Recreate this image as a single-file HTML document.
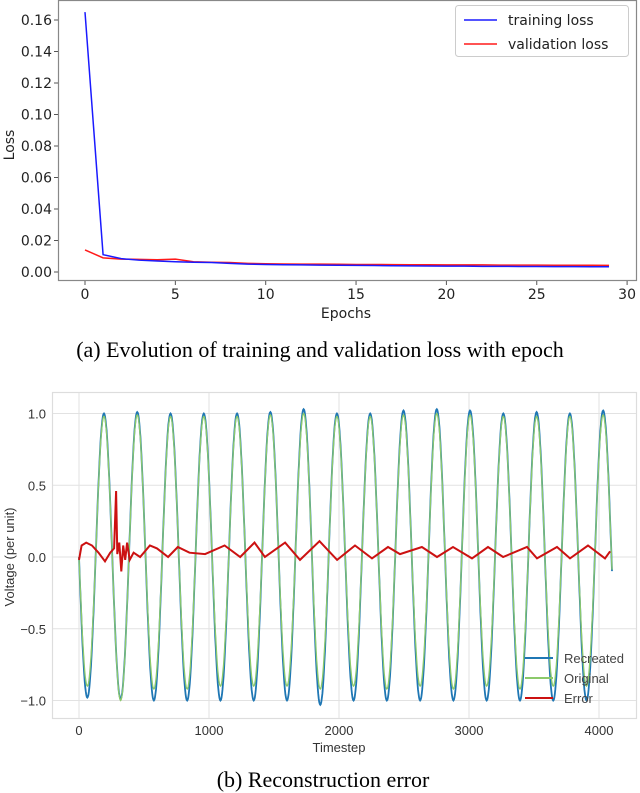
<!DOCTYPE html>
<html><head><meta charset="utf-8"><style>
body{margin:0;background:#fff;width:640px;height:793px;overflow:hidden}
svg{display:block}
.cap{font-family:"Liberation Serif",serif;font-size:22px;fill:#000}
</style></head><body>
<svg id="s" width="640" height="793">
<text class="cap" x="320" y="357" text-anchor="middle">(a) Evolution of training and validation loss with epoch</text>
<text class="cap" x="323" y="787" text-anchor="middle">(b) Reconstruction error</text>
</svg>
<script>
const epochs=[...Array(30).keys()];
const trainLoss=[0.165,0.011,0.0085,0.0075,0.007,0.0065,0.0062,0.006,0.0055,0.005,0.0048,0.0046,0.0045,0.0044,0.0043,0.0042,0.0041,0.004,0.0039,0.0038,0.0037,0.0037,0.0036,0.0036,0.0035,0.0035,0.0034,0.0034,0.0033,0.0033];
const valLoss=[0.014,0.009,0.0082,0.008,0.0078,0.0082,0.0065,0.0062,0.006,0.0055,0.0052,0.0051,0.005,0.005,0.0049,0.0048,0.0048,0.0047,0.0046,0.0046,0.0045,0.0045,0.0045,0.0044,0.0044,0.0044,0.0043,0.0043,0.0043,0.0042];
const lossTicksY=[0,0.02,0.04,0.06,0.08,0.10,0.12,0.14,0.16];
const lossTicksX=[0,5,10,15,20,25,30];
// bottom chart
const period=256;
const recPeaks=[1.0,1.01,1.0,1.0,1.0,1.01,1.03,1.0,1.0,1.02,1.03,1.02,1.0,1.01,1.0,1.02];
const recTroughs=[-0.98,-0.99,-1.0,-1.0,-1.0,-1.0,-1.0,-1.03,-1.0,-1.0,-1.0,-1.0,-1.0,-1.0,-1.0,-1.0];
const origPeaks=[0.98,0.99,0.98,0.98,0.98,0.99,1.0,0.98,0.98,0.99,1.0,0.99,0.98,0.98,0.98,0.99];
const origTroughs=[-0.9,-1.0,-0.92,-0.92,-0.9,-0.9,-0.9,-0.92,-0.9,-0.92,-0.9,-0.92,-0.9,-0.92,-0.9,-0.9];
const errT=[0,20,55,100,150,200,240,270,285,295,310,325,340,355,370,390,420,470,545,600,685,760,850,970,1120,1240,1350,1430,1585,1700,1850,1985,2123,2254,2377,2469,2638,2754,2877,3023,3146,3262,3446,3523,3677,3777,3915,4046,4085];
const errV=[-0.02,0.08,0.1,0.08,0.03,-0.03,0.03,0.06,0.46,0.02,0.1,-0.1,0.08,-0.02,0.1,-0.02,0.03,0.0,0.08,0.06,0.0,0.07,0.03,0.02,0.08,0.0,0.1,0.0,0.1,-0.02,0.11,-0.02,0.08,-0.01,0.07,0.02,0.07,0.0,0.07,-0.01,0.07,0.0,0.07,-0.01,0.07,-0.01,0.08,-0.01,0.04];
const voltTicksY=[1.0,0.5,0.0,-0.5,-1.0];
const voltTicksX=[0,1000,2000,3000,4000];

const S=document.getElementById('s'),NS='http://www.w3.org/2000/svg';
function el(t,a,txt){const e=document.createElementNS(NS,t);for(const k in a)e.setAttribute(k,a[k]);if(txt!==undefined)e.textContent=txt;S.appendChild(e);return e;}

// ---- top chart
const tx=v=>85+v*18.07, ty=v=>272-v*1575;
let f=el('rect',{x:58.5,y:0.5,width:578,height:280,fill:'none',stroke:'#888','stroke-width':1.2});


lossTicksY.forEach(v=>{
 let t=el('line',{x1:54,x2:58,y1:ty(v),y2:ty(v),stroke:'#555'});
 
 let l=el('text',{x:52,y:ty(v)+5,'text-anchor':'end','font-family':'DejaVu Sans,sans-serif','font-size':14,fill:'#222'},v.toFixed(2));
 
});
lossTicksX.forEach(v=>{
 let t=el('line',{x1:tx(v),x2:tx(v),y1:281,y2:285,stroke:'#555'});
 
 let l=el('text',{x:tx(v),y:299,'text-anchor':'middle','font-family':'DejaVu Sans,sans-serif','font-size':14,fill:'#222'},v);
 
});
let yt=el('text',{x:14,y:145,transform:'rotate(-90 14 145)','text-anchor':'middle','font-family':'DejaVu Sans,sans-serif','font-size':14,fill:'#222'},'Loss');

let xt=el('text',{x:346,y:318,'text-anchor':'middle','font-family':'DejaVu Sans,sans-serif','font-size':14,fill:'#222'},'Epochs');

let p1=el('polyline',{points:epochs.map(e=>tx(e)+','+ty(valLoss[e])).join(' '),fill:'none',stroke:'#ff1a1a','stroke-width':1.5});

let p2=el('polyline',{points:epochs.map(e=>tx(e)+','+ty(trainLoss[e])).join(' '),fill:'none',stroke:'#1a1aff','stroke-width':1.5});

let lg=el('rect',{x:455.5,y:5.5,width:173,height:51,rx:3,fill:'#fff',stroke:'#ccc'});

[['training loss','#1a1aff',20],['validation loss','#ff1a1a',44]].forEach(([n,c,y])=>{
 let l=el('line',{x1:464,x2:497,y1:y,y2:y,stroke:c,'stroke-width':1.5});
 
 let t=el('text',{x:508,y:y+5,'font-family':'DejaVu Sans,sans-serif','font-size':14,fill:'#222'},n);
 
});

// ---- bottom chart
const bx=v=>79+v*0.13, by=v=>557-v*143.5;
let f2=el('rect',{x:52.5,y:392.5,width:584,height:326,fill:'#fff',stroke:'#ddd','stroke-width':1.2});

voltTicksY.forEach(v=>{
 let g=el('line',{x1:53,x2:636,y1:by(v),y2:by(v),stroke:'#e2e2e2'});
 
 let l=el('text',{x:46,y:by(v)+5,'text-anchor':'end','font-family':'Liberation Sans,sans-serif','font-size':13,fill:'#333'},v===0?'0.0':(v<0?'\u2212':'')+Math.abs(v).toFixed(1));
 
});
voltTicksX.forEach(v=>{
 let g=el('line',{x1:bx(v),x2:bx(v),y1:393,y2:718,stroke:'#e2e2e2'});
 
 let l=el('text',{x:bx(v),y:735,'text-anchor':'middle','font-family':'Liberation Sans,sans-serif','font-size':13,fill:'#333'},v);
 
});
let yt2=el('text',{x:14,y:557,transform:'rotate(-90 14 557)','text-anchor':'middle','font-family':'Liberation Sans,sans-serif','font-size':13,fill:'#333'},'Voltage (per unit)');

let xt2=el('text',{x:339,y:752,'text-anchor':'middle','font-family':'Liberation Sans,sans-serif','font-size':13,fill:'#333'},'Timestep');

function wave(peaks,troughs){
 const pts=[];
 for(let t=0;t<=4100;t+=4){
  const s=-Math.sin(2*Math.PI*t/period), c=Math.floor(t/period);
  const a=s>=0?peaks[Math.min(c,peaks.length-1)]:-troughs[Math.min(c,troughs.length-1)];
  pts.push(bx(t).toFixed(1)+','+by(s*a).toFixed(1));
 }
 return pts.join(' ');
}
let r=el('polyline',{points:wave(recPeaks,recTroughs),fill:'none',stroke:'#1f77b4','stroke-width':1.8});

let o=el('polyline',{points:wave(origPeaks,origTroughs),fill:'none',stroke:'#8cc96b','stroke-width':1.3});

let er=el('polyline',{points:errT.map((t,i)=>bx(t).toFixed(1)+','+by(errV[i]).toFixed(1)).join(' '),fill:'none',stroke:'#cc1111','stroke-width':2});

[['Recreated','#1f77b4',658],['Original','#8cc96b',678],['Error','#cc1111',698]].forEach(([n,c,y])=>{
 let l=el('line',{x1:525,x2:553,y1:y,y2:y,stroke:c,'stroke-width':2});
 
 let t=el('text',{x:564,y:y+5,'font-family':'Liberation Sans,sans-serif','font-size':13,fill:'#444'},n);
 
});
</script>
</body></html>
